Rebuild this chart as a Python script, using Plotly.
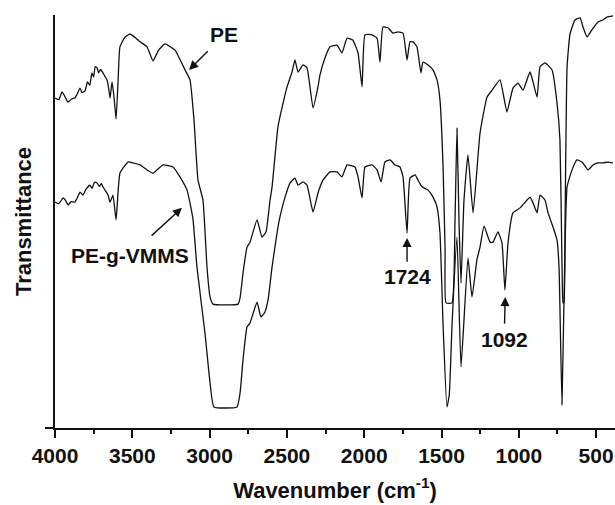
import plotly.graph_objects as go

# PE spectrum (upper curve): wavenumber (cm-1) and transmittance (a.u.)
pe_wn = [4000, 3975, 3955, 3935, 3916, 3895, 3871, 3855, 3838, 3825, 3806, 3790, 3775, 3761,
         3750, 3740, 3728, 3718, 3705, 3690, 3678, 3664, 3652, 3644, 3631, 3618, 3605, 3592,
         3580, 3550, 3515, 3480, 3450, 3405, 3366, 3330, 3289, 3224, 3159, 3127, 3101, 3075,
         3043, 3017, 2997, 2978, 2816, 2803, 2784, 2758, 2739, 2693, 2661, 2635, 2609, 2596,
         2558, 2532, 2499, 2467, 2448, 2428, 2396, 2370, 2331, 2299, 2286, 2254, 2221, 2176,
         2144, 2111, 2073, 2040, 2014, 1995, 1950, 1917, 1898, 1879, 1846, 1814, 1781, 1749,
         1723, 1704, 1684, 1659, 1633, 1620, 1587, 1555, 1529, 1510, 1490, 1477, 1471, 1432,
         1413, 1400, 1387, 1374, 1355, 1329, 1296, 1251, 1206, 1173, 1122, 1077, 1038, 1005,
         973, 928, 908, 882, 863, 831, 785, 753, 734, 721, 714, 708, 701, 688, 669, 637, 604,
         585, 559, 527, 488, 456, 430, 391]
pe_t = [79.9, 79.5, 81.4, 80.2, 78.9, 79.6, 79.9, 81.0, 82.3, 81.2, 81.6, 83.8, 83.0, 86.0,
        85.0, 87.5, 87.2, 86.0, 86.8, 86.0, 85.2, 84.3, 82.0, 79.9, 83.8, 80.0, 74.8, 84.0,
        92.3, 94.5, 95.4, 94.5, 93.5, 92.3, 88.9, 91.5, 93.0, 91.5, 86.7, 84.3, 74.6, 60.0,
        55.2, 39.0, 31.7, 30.0, 30.0, 31.5, 37.5, 43.8, 45.0, 50.4, 46.2, 47.5, 55.2, 58.4,
        72.9, 77.5, 82.6, 86.2, 89.1, 86.2, 87.9, 87.2, 77.5, 82.6, 85.5, 89.6, 92.3, 92.7,
        90.8, 94.4, 93.9, 90.8, 82.6, 95.2, 95.2, 94.4, 88.6, 97.1, 96.9, 95.6, 95.9, 95.6,
        89.1, 93.5, 93.5, 92.3, 86.0, 88.6, 87.9, 86.7, 84.3, 79.4, 63.2, 43.1, 30.3, 30.3,
        50.0, 72.6, 50.0, 35.1, 55.0, 66.1, 52.1, 71.4, 80.1, 81.8, 84.3, 76.5, 82.3, 83.5,
        81.8, 86.2, 83.8, 80.1, 87.4, 88.4, 86.7, 78.7, 69.7, 40.0, 30.3, 30.3, 50.0, 87.4,
        95.4, 98.8, 99.3, 97.1, 94.7, 96.4, 98.3, 98.8, 99.5, 99.8]

# PE-g-VMMS spectrum (lower curve)
g_wn = [4000, 3975, 3948, 3930, 3916, 3895, 3871, 3855, 3838, 3819, 3800, 3774, 3760, 3745,
        3728, 3712, 3700, 3690, 3675, 3657, 3644, 3625, 3605, 3580, 3528, 3495, 3450, 3405,
        3366, 3301, 3237, 3192, 3146, 3127, 3107, 3082, 3030, 2997, 2972, 2823, 2803, 2784,
        2758, 2739, 2693, 2668, 2642, 2622, 2596, 2564, 2545, 2512, 2480, 2448, 2428, 2396,
        2370, 2331, 2299, 2267, 2221, 2176, 2144, 2111, 2060, 2040, 2014, 1995, 1950, 1917,
        1891, 1866, 1833, 1801, 1769, 1749, 1723, 1704, 1671, 1652, 1626, 1587, 1555, 1529,
        1510, 1490, 1465, 1450, 1432, 1400, 1374, 1329, 1303, 1271, 1251, 1225, 1186, 1167,
        1135, 1109, 1090, 1070, 1038, 992, 947, 928, 908, 882, 863, 831, 811, 779, 753, 740,
        721, 708, 688, 656, 624, 591, 552, 520, 488, 456, 423, 391]
g_t = [54.7, 54.3, 55.7, 55.0, 54.0, 54.8, 54.7, 55.8, 57.1, 56.4, 57.8, 58.8, 58.0, 59.5,
       59.3, 58.5, 59.2, 58.4, 57.5, 56.4, 54.7, 56.4, 50.4, 61.7, 64.4, 64.2, 63.7, 62.5,
       61.7, 63.7, 63.2, 60.8, 57.6, 54.5, 50.4, 39.0, 23.0, 10.9, 5.1, 5.1, 8.5, 16.5,
       24.5, 25.4, 30.5, 26.9, 28.1, 31.0, 39.0, 47.2, 51.1, 55.9, 59.3, 60.5, 58.8, 59.6,
       58.8, 52.3, 56.9, 60.0, 62.0, 62.0, 60.8, 63.7, 63.2, 60.8, 55.7, 63.2, 63.7, 62.5,
       59.6, 64.4, 64.9, 63.7, 63.2, 60.8, 47.2, 60.5, 61.3, 60.0, 58.4, 57.6, 55.9, 53.5,
       47.2, 25.0, 5.1, 8.0, 25.0, 46.2, 14.8, 41.2, 31.7, 40.7, 43.8, 48.9, 45.0, 45.0,
       47.5, 44.8, 33.4, 44.8, 52.1, 53.3, 55.2, 55.9, 54.5, 52.1, 56.4, 55.2, 52.1, 48.7,
       45.5, 39.0, 5.6, 31.0, 58.4, 62.5, 64.9, 64.4, 62.5, 63.7, 64.2, 64.2, 64.4, 64.2]

x_ticks = [4000, 3500, 3000, 2500, 2000, 1500, 1000, 500]

# Labels: text, text position (wavenumber, T), arrow head (wavenumber, T), start standoff
labels = [
    ("PE", 2905, 95.2, 3133, 86.7, 5),
    ("PE-g-VMMS", 3515, 41.8, 3179, 53.3, 10),
    ("1724", 1723, 36.6, 1723, 46.0, 2),
    ("1092", 1095, 21.4, 1088, 31.7, 3),
]

FONT = "Arial, Liberation Sans, sans-serif"
INK = "#111111"

fig = go.Figure()
for wn, t in [(pe_wn, pe_t), (g_wn, g_t)]:
    fig.add_trace(go.Scatter(x=wn, y=t, mode="lines",
                             line=dict(color=INK, width=1.3, shape="spline", smoothing=0.4),
                             showlegend=False, hoverinfo="skip"))

for txt, lx, ly, hx, hy, so in labels:
    fig.add_annotation(x=hx, y=hy, ax=lx, ay=ly, xref="x", yref="y", axref="x", ayref="y",
                       text=txt, showarrow=True, arrowhead=2, arrowsize=1.3, arrowwidth=1.4,
                       arrowcolor=INK, startstandoff=so, standoff=0,
                       font=dict(family=FONT, size=21, color=INK, weight="bold"))

fig.update_layout(
    width=615, height=505,
    margin=dict(l=55, r=0, t=15, b=77),
    plot_bgcolor="white", paper_bgcolor="white",
    font=dict(family=FONT, color=INK),
)
fig.update_xaxes(
    range=[4000, 378], tickvals=x_ticks, ticks="outside", ticklen=8, tickwidth=2,
    tickcolor=INK, showline=True, linewidth=2, linecolor=INK,
    showgrid=False, zeroline=False,
    tickfont=dict(family=FONT, size=21, color=INK, weight="bold"),
    minor=dict(tickvals=[3750, 3250, 2750, 2250, 1750, 1250, 750], ticks="outside",
               ticklen=4, tickwidth=2, tickcolor=INK),
    title=dict(text="Wavenumber (cm<sup>-1</sup>)", standoff=16,
               font=dict(family=FONT, size=22, color=INK, weight="bold")),
)
fig.update_yaxes(
    range=[0, 100], tickvals=[0], ticks="outside", ticklen=8, tickwidth=2,
    tickcolor=INK, showticklabels=False, showline=True, linewidth=2,
    linecolor=INK, showgrid=False, zeroline=False,
    title=dict(text="Transmittance", standoff=7,
               font=dict(family=FONT, size=22, color=INK, weight="bold")),
)

fig.write_html("out.html")
